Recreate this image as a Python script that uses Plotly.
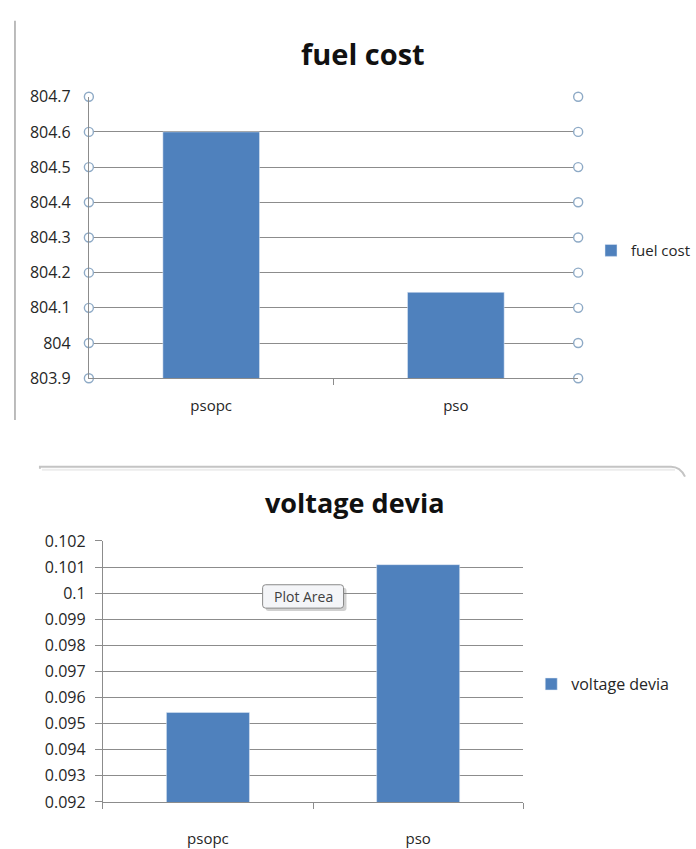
import plotly.graph_objects as go

# ---- data -------------------------------------------------------------
methods = ["psopc", "pso"]

fuel_cost = [804.60, 804.144]
fuel_ticks = [803.9, 804.0, 804.1, 804.2, 804.3, 804.4, 804.5, 804.6, 804.7]
fuel_tick_text = ["803.9", "804", "804.1", "804.2", "804.3", "804.4", "804.5", "804.6", "804.7"]

voltage_devia = [0.09543, 0.10109]
volt_ticks = [0.092, 0.093, 0.094, 0.095, 0.096, 0.097, 0.098, 0.099, 0.100, 0.101, 0.102]
volt_tick_text = ["0.092", "0.093", "0.094", "0.095", "0.096", "0.097", "0.098", "0.099", "0.1", "0.101", "0.102"]

# ---- styling ----------------------------------------------------------
W, H = 696, 849
BAR = "#4f81bd"
GRID = "#8c8c8c"
TXT = "#262626"
FONT = "Open Sans"


def px(x):
    return x / W


def py(y):
    return 1 - y / H


xpos = list(range(len(methods)))

fig = go.Figure()

# top chart: fuel cost
fig.add_trace(go.Bar(
    x=xpos, y=fuel_cost, name="fuel cost", marker_color=BAR, width=0.395,
    xaxis="x", yaxis="y", legend="legend",
))
# hollow circle markers on both vertical edges at every tick
fig.add_trace(go.Scatter(
    x=[-0.5] * len(fuel_ticks) + [1.5] * len(fuel_ticks),
    y=fuel_ticks + fuel_ticks,
    mode="markers", cliponaxis=False, showlegend=False, hoverinfo="skip",
    marker=dict(symbol="circle", size=9, color="white",
                line=dict(color="#8eaac6", width=1.4)),
    xaxis="x", yaxis="y",
))

# bottom chart: voltage deviation
fig.add_trace(go.Bar(
    x=xpos, y=voltage_devia, name="voltage devia", marker_color=BAR, width=0.395,
    xaxis="x2", yaxis="y2", legend="legend2",
))

axis_common = dict(showgrid=False, zeroline=False, fixedrange=True)

fig.update_layout(
    width=W, height=H,
    margin=dict(l=0, r=0, t=0, b=0),
    paper_bgcolor="white", plot_bgcolor="white",
    font=dict(family=FONT, color=TXT, size=15),
    bargap=0.6,
    xaxis=dict(
        **axis_common, domain=[px(89), px(579)], anchor="y", range=[-0.5, 1.5],
        tickmode="array", tickvals=xpos, ticktext=methods, ticks="",
        tickfont=dict(size=15, color=TXT), ticklabelstandoff=14,
        showline=True, linecolor=GRID, linewidth=1,
        minor=dict(tickmode="array", tickvals=[0.5], ticks="outside",
                   ticklen=6, tickcolor=GRID, tickwidth=1),
    ),
    yaxis=dict(
        zeroline=False, fixedrange=True,
        domain=[py(377), py(88)], anchor="x", range=[803.9, 804.7],
        tickmode="array", tickvals=fuel_ticks, ticktext=fuel_tick_text,
        showgrid=True, gridcolor=GRID, gridwidth=1,
        showline=True, linecolor=GRID, linewidth=1, ticks="",
        ticklabelstandoff=14, tickfont=dict(size=16, color=TXT),
    ),
    xaxis2=dict(
        **axis_common, domain=[px(103), px(524)], anchor="y2", range=[-0.5, 1.5],
        tickmode="array", tickvals=xpos, ticktext=methods, ticks="",
        tickfont=dict(size=15, color=TXT), ticklabelstandoff=23,
        showline=True, linecolor=GRID, linewidth=1,
        minor=dict(tickmode="array", tickvals=[-0.5, 0.5, 1.5], ticks="outside",
                   ticklen=6, tickcolor=GRID, tickwidth=1),
    ),
    yaxis2=dict(
        zeroline=False, fixedrange=True,
        domain=[py(812), py(544)], anchor="x2", range=[0.092, 0.102],
        tickmode="array", tickvals=volt_ticks, ticktext=volt_tick_text,
        showgrid=True, gridcolor=GRID, gridwidth=1,
        showline=True, linecolor=GRID, linewidth=1,
        ticks="outside", ticklen=7, tickcolor=GRID,
        ticklabelstandoff=6, tickfont=dict(size=16, color=TXT),
    ),
    legend=dict(
        x=px(592), y=py(246), xanchor="left", yanchor="middle",
        bgcolor="rgba(0,0,0,0)", font=dict(size=15, color=TXT),
        itemwidth=30,
    ),
    legend2=dict(
        x=px(532), y=py(691), xanchor="left", yanchor="middle",
        bgcolor="rgba(0,0,0,0)", font=dict(size=16, color=TXT),
        itemwidth=30,
    ),
    showlegend=True,
)

# chart titles
fig.add_annotation(text="<b>fuel cost</b>", x=px(364), y=py(44), xref="paper", yref="paper",
                   xanchor="center", yanchor="middle",
                   showarrow=False, font=dict(size=29, color="#111111", family=FONT))
fig.add_annotation(text="<b>voltage devia</b>", x=px(356), y=py(505), xref="paper", yref="paper",
                   xanchor="center", yanchor="middle",
                   showarrow=False, font=dict(size=27, color="#111111", family=FONT))

# chart-area frame edges
fig.add_shape(type="line", xref="paper", yref="paper",
              x0=px(15), x1=px(15), y0=py(10), y1=py(420),
              line=dict(color="#a6a6a6", width=1.5))
fig.add_shape(type="path", xref="paper", yref="paper",
              path=(f"M {px(40)},{py(470)} L {px(40)},{py(468)} L {px(672)},{py(468)} "
                    f"Q {px(681)},{py(468)} {px(686)},{py(478)}"),
              line=dict(color="#c4c4c4", width=2))
fig.add_shape(type="line", xref="paper", yref="paper",
              x0=px(42), x1=px(676), y0=py(471), y1=py(471),
              line=dict(color="#ececec", width=2))

# "Plot Area" hover label with its drop shadow
def rounded_rect(x0, y0, x1, y1, r):
    return (f"M {px(x0 + r)},{py(y0)} L {px(x1 - r)},{py(y0)} "
            f"Q {px(x1)},{py(y0)} {px(x1)},{py(y0 + r)} "
            f"L {px(x1)},{py(y1 - r)} Q {px(x1)},{py(y1)} {px(x1 - r)},{py(y1)} "
            f"L {px(x0 + r)},{py(y1)} Q {px(x0)},{py(y1)} {px(x0)},{py(y1 - r)} "
            f"L {px(x0)},{py(y0 + r)} Q {px(x0)},{py(y0)} {px(x0 + r)},{py(y0)} Z")

fig.add_shape(type="path", xref="paper", yref="paper", layer="above",
              path=rounded_rect(266, 592, 347, 616, 3),
              fillcolor="rgba(120,120,120,0.35)", line=dict(width=0))
fig.add_shape(type="path", xref="paper", yref="paper", layer="above",
              path=rounded_rect(263, 589, 344, 613, 3),
              fillcolor="#f4f5f8", line=dict(color="#8a8a8a", width=1))
fig.add_annotation(text="Plot Area", x=px(303.5), y=py(601), xref="paper", yref="paper",
                   xanchor="center", yanchor="middle",
                   showarrow=False, font=dict(size=14, color="#404040", family=FONT))

fig.write_html("out.html")
